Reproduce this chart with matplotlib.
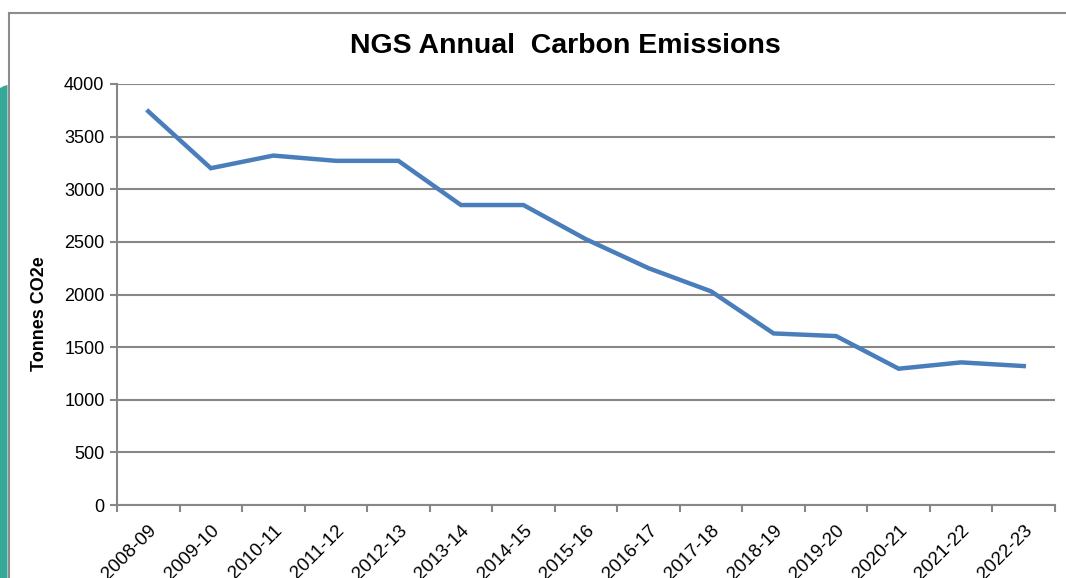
import matplotlib
matplotlib.use('Agg')
import matplotlib.pyplot as plt
from matplotlib.patches import Polygon
from matplotlib.lines import Line2D

plt.rcParams['font.family'] = ['Liberation Sans', 'DejaVu Sans']

years = ['2008-09', '2009-10', '2010-11', '2011-12', '2012-13', '2013-14', '2014-15',
         '2015-16', '2016-17', '2017-18', '2018-19', '2019-20', '2020-21', '2021-22', '2022-23']
emissions = [3740, 3200, 3320, 3270, 3270, 2850, 2850, 2525, 2250, 2030, 1630, 1605, 1295, 1355, 1320]
y_ticks = [0, 500, 1000, 1500, 2000, 2500, 3000, 3500, 4000]

W, H = 1066, 578
fig = plt.figure(figsize=(W / 100, H / 100), dpi=100)
fig.patch.set_facecolor('white')

# slide decoration on the left and the chart frame
teal = Polygon([(0, 1 - 88 / H), (4 / W, 1 - 86 / H), (7.5 / W, 1 - 85 / H), (7.5 / W, 0), (0, 0)],
               closed=True, transform=fig.transFigure, facecolor='#36a897', edgecolor='none')
fig.patches.append(teal)
fig.lines.append(Line2D([8.5 / W, 8.5 / W], [0, 1 - 13 / H], transform=fig.transFigure,
                        color='#8c8c8c', linewidth=1.5))
fig.lines.append(Line2D([8.5 / W, 1], [1 - 13 / H, 1 - 13 / H], transform=fig.transFigure,
                        color='#8c8c8c', linewidth=1.5))

ax = fig.add_axes([117 / W, 1 - 505 / H, (1055 - 117) / W, (505 - 84) / H])
x = list(range(len(years)))
ax.plot(x, emissions, color='#4a7ebb', linewidth=3.2, solid_joinstyle='miter', zorder=3)

ax.set_xlim(-0.5, len(years) - 0.5)
ax.set_ylim(0, 4000)
ax.set_yticks(y_ticks)
ax.yaxis.grid(True, color='#878787', linewidth=1.5)
ax.set_axisbelow(True)

ax.set_xticks([i - 0.5 for i in range(len(years) + 1)])
ax.set_xticklabels([])
ax.set_xticks(x, minor=True)
ax.set_xticklabels(years, minor=True, rotation=45, ha='right', va='top',
                   rotation_mode='anchor', fontsize=13.5)
ax.tick_params(axis='x', which='minor', length=0, pad=12)
ax.tick_params(axis='x', which='major', length=5, color='#878787', width=1.5)
ax.tick_params(axis='y', length=5, color='#878787', width=1.5, labelsize=13, pad=4)

for s in ['top', 'right']:
    ax.spines[s].set_visible(False)
for s in ['left', 'bottom']:
    ax.spines[s].set_color('#878787')
    ax.spines[s].set_linewidth(1.5)

fig.text(39 / W, 1 - 314 / H, 'Tonnes CO2e', rotation=90, ha='center', va='center',
         fontsize=13, fontweight='bold')
fig.text(565 / W, 1 - 46 / H, 'NGS Annual  Carbon Emissions', ha='center', va='center',
         fontsize=20.5, fontweight='bold')

fig.savefig('out.png', dpi=100)
